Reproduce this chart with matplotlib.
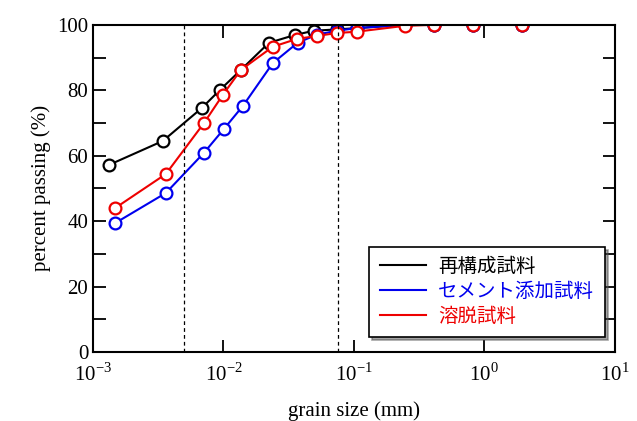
import numpy as np
import matplotlib
matplotlib.use('Agg')
import matplotlib.pyplot as plt

plt.rcParams['font.family'] = ['Liberation Serif', 'Noto Sans CJK JP']
plt.rcParams['mathtext.fontset'] = 'custom'
plt.rcParams['mathtext.rm'] = 'Liberation Serif'

# grain size (mm) and percent passing
d_black = [0.00133, 0.00343, 0.00684, 0.0094, 0.0136, 0.0223, 0.0353, 0.0493, 0.074, 0.105, 0.246, 0.41, 0.82, 1.95]
p_black = [57.2, 64.5, 74.6, 80.1, 86.2, 94.5, 96.9, 98.2, 98.6, 99.0, 100, 100, 100, 100]

d_blue = [0.00148, 0.00362, 0.0071, 0.0101, 0.0141, 0.0239, 0.037, 0.052, 0.074, 0.105, 0.246, 0.41, 0.82, 1.95]
p_blue = [39.4, 48.6, 60.9, 68.2, 75.2, 88.3, 94.5, 97.0, 98.2, 99.0, 100, 100, 100, 100]

d_red = [0.00148, 0.00362, 0.0071, 0.0099, 0.0136, 0.0239, 0.0366, 0.052, 0.074, 0.105, 0.246, 0.41, 0.82, 1.95]
p_red = [44.0, 54.4, 70.0, 78.6, 86.2, 93.3, 95.7, 96.6, 97.5, 97.9, 99.7, 100, 100, 100]

labels = ['再構成試料', 'セメント添加試料', '溶脱試料']
colors = ['black', '#0000ee', '#ee0000']
bounds = [0.005, 0.075]

fig = plt.figure(figsize=(6.37, 4.21), dpi=100)
ax = fig.add_axes([0.146, 0.164, 0.819, 0.777])

for d, p, c, lab in zip([d_black, d_blue, d_red], [p_black, p_blue, p_red], colors, labels):
    ax.plot(d, p, '-o', color=c, lw=1.5, ms=8.5, mfc='white', mec=c, mew=1.6, label=lab)

for b in bounds:
    ax.axvline(b, color='black', ls='--', lw=0.9, dashes=(3, 2.5))

ax.set_xscale('log')
ax.set_xlim(1e-3, 1e1)
ax.set_ylim(0, 100)
ax.set_xticks([1e-3, 1e-2, 1e-1, 1e0, 1e1])
ax.set_xticklabels([r'$10^{-3}$', r'$10^{-2}$', r'$10^{-1}$', r'$10^{0}$', r'$10^{1}$'])
ax.xaxis.set_minor_locator(matplotlib.ticker.NullLocator())
ax.set_yticks([0, 20, 40, 60, 80, 100])
ax.set_yticks([10, 30, 50, 70, 90], minor=True)
ax.tick_params(which='both', direction='in', top=True, right=True, labelsize=15, length=9, width=1.3)
ax.tick_params(axis='x', pad=8)
for s in ax.spines.values():
    s.set_linewidth(1.5)

ax.set_xlabel('grain size (mm)', fontsize=15, labelpad=11)
ax.set_ylabel('percent passing (%)', fontsize=15)

leg = ax.legend(loc='lower right', bbox_to_anchor=(0.981, 0.046), fontsize=14, frameon=True,
                fancybox=False, shadow=True, edgecolor='black', handlelength=2.4,
                handletextpad=0.6, borderpad=0.55, borderaxespad=0, labelspacing=0.35)
leg.get_frame().set_linewidth(1.2)
for h in leg.legend_handles:
    h.set_marker('')
for t, c in zip(leg.get_texts(), colors):
    t.set_color(c)

fig.savefig('out.png', dpi=100)
